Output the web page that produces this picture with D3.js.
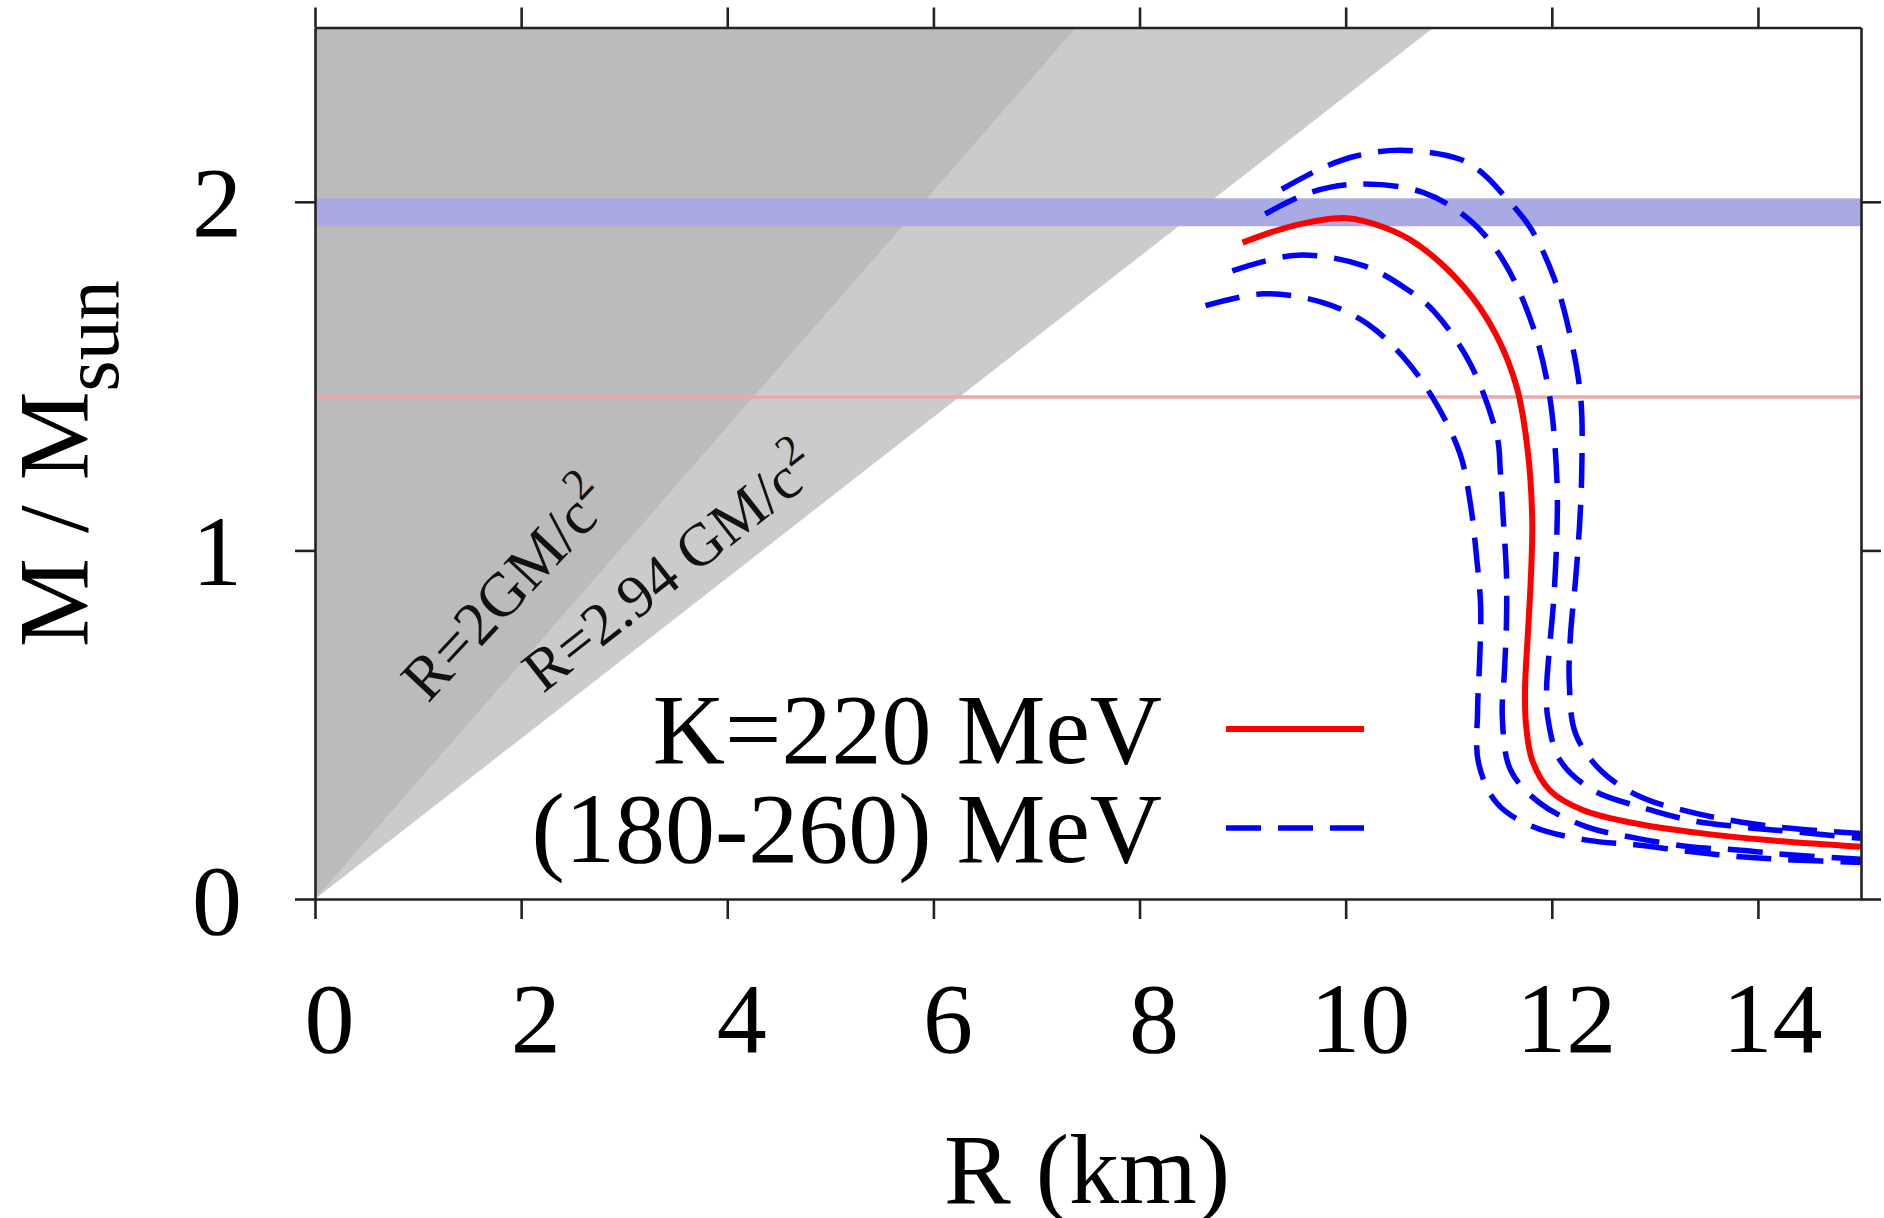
<!DOCTYPE html>
<html>
<head>
<meta charset="utf-8">
<script src="https://cdn.jsdelivr.net/npm/d3@7"></script>
<style>
  html, body { margin: 0; padding: 0; background: #ffffff; }
  svg { display: block; }
</style>
</head>
<body>
<svg id="chart" width="1884" height="1218"></svg>
<script>
// Mass-radius relations of neutron stars for different incompressibilities K.

// Axis domains and ticks
const radiusDomain = [0, 15];          // km
const massDomain = [0, 2.5];           // solar masses
const radiusTicks = [0, 2, 4, 6, 8, 10, 12, 14];
const massTicks = [0, 1, 2];

// Excluded regions: R < f * GM/c^2
const gmOverC2 = 1.4766;               // km per solar mass
const horizonFactor = 2;               // R = 2GM/c^2
const causalityFactor = 2.94;          // R = 2.94 GM/c^2

// Observational constraints
const massBand = [1.93, 2.01];         // ~2 M_sun pulsar
const canonicalMass = 1.44;            // 1.44 M_sun line

// M(R) for K = 220 MeV  [R (km), M/M_sun]
const curveK220 = [
  [9.00, 1.883], [9.49, 1.931], [10.01, 1.953], [10.37, 1.927], [10.69, 1.879],
  [11.15, 1.755], [11.45, 1.624], [11.66, 1.468], [11.77, 1.277],
  [11.81, 1.086], [11.80, 0.943], [11.77, 0.771], [11.74, 0.600], [11.75, 0.500],
  [11.81, 0.398], [11.98, 0.312], [12.30, 0.255], [12.79, 0.218], [13.44, 0.189],
  [14.09, 0.169], [15.00, 0.150]
];

// M(R) for K in the range 180-260 MeV (stiffest first)
const curveK260 = [
  [9.38, 2.036], [9.78, 2.098], [10.11, 2.132], [10.53, 2.148], [11.11, 2.122],
  [11.34, 2.079], [11.50, 2.030], [11.79, 1.926], [12.02, 1.783], [12.16, 1.640],
  [12.28, 1.440], [12.29, 1.220], [12.27, 1.076], [12.23, 0.914], [12.18, 0.752],
  [12.17, 0.618], [12.23, 0.475], [12.47, 0.370], [12.86, 0.293], [13.34, 0.250],
  [13.83, 0.221], [14.34, 0.202], [15.00, 0.188]
];
const curveK240 = [
  [9.22, 1.965], [9.66, 2.027], [10.14, 2.051], [10.75, 2.027], [11.21, 1.946],
  [11.53, 1.831], [11.82, 1.640], [11.98, 1.440], [12.05, 1.200], [12.05, 1.057],
  [12.02, 0.866], [11.97, 0.694], [11.95, 0.608], [11.96, 0.522], [12.08, 0.398],
  [12.40, 0.312], [12.86, 0.264], [13.34, 0.226], [13.83, 0.207], [14.34, 0.193],
  [15.00, 0.174]
];
const curveK200 = [
  [8.90, 1.802], [9.53, 1.847], [10.17, 1.817], [10.59, 1.750], [10.85, 1.688],
  [11.21, 1.535], [11.47, 1.325], [11.50, 1.229], [11.53, 1.086], [11.56, 0.933],
  [11.56, 0.790], [11.54, 0.650], [11.52, 0.522], [11.60, 0.370], [11.89, 0.274],
  [12.34, 0.207], [12.83, 0.174], [13.34, 0.150], [13.83, 0.140], [14.34, 0.126],
  [15.00, 0.114]
];
const curveK180 = [
  [8.64, 1.702], [9.20, 1.736], [9.78, 1.711], [10.21, 1.650], [10.59, 1.544],
  [10.88, 1.420], [11.11, 1.277], [11.21, 1.134], [11.27, 0.981], [11.31, 0.838],
  [11.30, 0.685], [11.28, 0.542], [11.29, 0.389], [11.47, 0.274], [11.82, 0.207],
  [12.34, 0.169], [12.83, 0.155], [13.34, 0.136], [13.83, 0.121], [14.34, 0.112],
  [15.00, 0.105]
];
const bandCurves = [curveK260, curveK240, curveK200, curveK180];

const legendLabels = ["K=220 MeV", "(180-260) MeV"];

// ---------------------------------------------------------------------------
const svg = d3.select("#chart");
const serif = "'Liberation Serif', 'Times New Roman', Times, serif";
const plot = { left: 315, right: 1861, top: 27.5, bottom: 899 };

const x = d3.scaleLinear().domain(radiusDomain).range([plot.left, plot.right]);
const y = d3.scaleLinear().domain(massDomain).range([plot.bottom, plot.top]);

svg.append("defs").append("clipPath").attr("id", "plot-clip")
  .append("rect")
  .attr("x", plot.left).attr("y", plot.top)
  .attr("width", plot.right - plot.left).attr("height", plot.bottom - plot.top);

const body = svg.append("g").attr("clip-path", "url(#plot-clip)");

// Forbidden regions (upper-left wedges)
const mTop = massDomain[1];
const wedge = f => [[0, 0], [f * gmOverC2 * mTop, mTop], [0, mTop]];
const poly = d3.line().x(d => x(d[0])).y(d => y(d[1]));
body.append("path").attr("d", poly(wedge(causalityFactor)) + "Z").attr("fill", "#cbcbcb");
body.append("path").attr("d", poly(wedge(horizonFactor)) + "Z").attr("fill", "#bbbbbb");

// 2 M_sun band and 1.44 M_sun line
body.append("rect")
  .attr("x", x(radiusDomain[0])).attr("width", x(radiusDomain[1]) - x(radiusDomain[0]))
  .attr("y", y(massBand[1])).attr("height", y(massBand[0]) - y(massBand[1]))
  .attr("fill", "#a9a9e4");
body.append("line")
  .attr("x1", x(radiusDomain[0])).attr("x2", x(radiusDomain[1]))
  .attr("y1", y(canonicalMass)).attr("y2", y(canonicalMass))
  .attr("stroke", "#eaa9a9").attr("stroke-width", 3.5);

// Rotated labels for the wedges
function wedgeLabel(px, py, angle, main, size) {
  const t = svg.append("text")
    .attr("transform", `translate(${px},${py}) rotate(${angle})`)
    .attr("font-family", serif).attr("font-size", size).attr("fill", "#111");
  t.append("tspan").text(main);
  t.append("tspan").attr("font-size", size * 0.72).attr("dy", -size * 0.42).text("2");
}
wedgeLabel(428, 704, -47, "R=2GM/c", 62);
wedgeLabel(543, 694, -38.2, "R=2.94 GM/c", 60);

// Mass-radius curves
const curve = d3.line().x(d => x(d[0])).y(d => y(d[1])).curve(d3.curveCatmullRom.alpha(0.5));
body.selectAll("path.band")
  .data(bandCurves).join("path").attr("class", "band")
  .attr("d", curve).attr("fill", "none")
  .attr("stroke", "#0000ff").attr("stroke-width", 5.5)
  .attr("stroke-dasharray", "35,17");
body.append("path").attr("d", curve(curveK220)).attr("fill", "none")
  .attr("stroke", "#ff0000").attr("stroke-width", 6);

// Axes (ticks pointing outward on all four sides)
function styleAxis(g) {
  g.attr("font-family", serif).attr("font-size", 100);
  g.selectAll(".domain, .tick line").attr("stroke", "#222").attr("stroke-width", 2.6);
  g.selectAll(".tick text").attr("fill", "#000");
}
svg.append("g").attr("transform", `translate(0,${plot.bottom})`)
  .call(d3.axisBottom(x).tickValues(radiusTicks).tickSize(20).tickSizeOuter(0).tickFormat(d3.format("d")))
  .call(styleAxis)
  .call(g => g.selectAll(".tick text").attr("y", 153).attr("dy", 0).attr("dx", 14));
svg.append("g").attr("transform", `translate(0,${plot.top})`)
  .call(d3.axisTop(x).tickValues(radiusTicks).tickSize(20).tickSizeOuter(0).tickFormat(""))
  .call(styleAxis);
svg.append("g").attr("transform", `translate(${plot.left},0)`)
  .call(d3.axisLeft(y).tickValues(massTicks).tickSize(20).tickSizeOuter(0).tickFormat(d3.format("d")))
  .call(styleAxis)
  .call(g => g.selectAll(".tick text").attr("x", -73).attr("dy", 34));
svg.append("g").attr("transform", `translate(${plot.right},0)`)
  .call(d3.axisRight(y).tickValues(massTicks).tickSize(20).tickSizeOuter(0).tickFormat(""))
  .call(styleAxis);

// Axis titles
svg.append("text")
  .attr("x", 1087).attr("y", 1203).attr("text-anchor", "middle")
  .attr("font-family", serif).attr("font-size", 100).attr("fill", "#000")
  .text("R (km)");
const yTitle = svg.append("text")
  .attr("transform", "translate(87,647) rotate(-90)")
  .attr("font-family", serif).attr("font-size", 100).attr("fill", "#000");
yTitle.append("tspan").text("M / M");
yTitle.append("tspan").attr("font-size", 80).attr("dy", 31).text("sun");

// Legend
const legend = svg.append("g");
const legendRows = [
  { label: legendLabels[0], base: 763, color: "#ff0000", dash: null, width: 6 },
  { label: legendLabels[1], base: 862, color: "#0000ff", dash: "35,17", width: 5.5 }
];
legendRows.forEach(r => {
  legend.append("text")
    .attr("x", 1162).attr("y", r.base).attr("text-anchor", "end")
    .attr("font-family", serif).attr("font-size", 100).attr("fill", "#000")
    .text(r.label);
  legend.append("line")
    .attr("x1", 1226).attr("x2", 1364).attr("y1", r.base - 34).attr("y2", r.base - 34)
    .attr("stroke", r.color).attr("stroke-width", r.width)
    .attr("stroke-dasharray", r.dash);
});
</script>
</body>
</html>
